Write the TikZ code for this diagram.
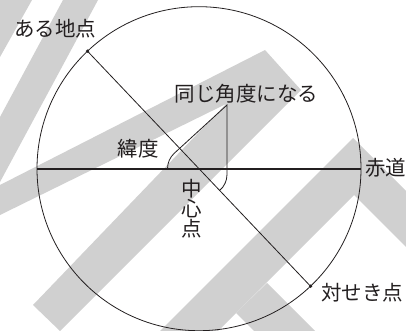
\documentclass[tikz,border=0pt]{standalone}
\usepackage{fontspec}
\newfontfamily\jp{Noto Sans CJK JP}
\begin{document}
\begin{tikzpicture}[x=1pt,y=-1pt]
\definecolor{wm}{RGB}{208,208,208}
\definecolor{ink}{RGB}{35,31,32}
\tikzset{
  wmark/.style={fill=wm,draw=none},
  lbl/.style={font=\jp\fontsize{20.5}{20}\selectfont, text=ink, inner sep=0pt},
  thinline/.style={draw=ink, line width=0.8pt},
  eqline/.style={draw=ink, line width=1.6pt},
  dotm/.style={circle, fill=ink, inner sep=0pt, minimum size=3.6pt}
}
\useasboundingbox (0,0) rectangle (406,331);
\fill[white] (0,0) rectangle (406,331);
% watermark stripes
\fill[wmark] (0,0) -- (32,0) -- (0,57) -- cycle;
\fill[wmark] (63,0) -- (98,0) -- (0,182) -- (0,117) -- cycle;
\fill[wmark] (0,185) -- (265,50) -- (301,90) -- (60,331) -- (33,305) -- (226,104) -- (0,215) -- cycle;
\fill[wmark] (160,331) -- (353,138) -- (406,191) -- (406,247) -- (354,195) -- (218,331) -- cycle;
\fill[wmark] (236,313) -- (267,283) -- (315,331) -- (254,331) -- cycle;
% geometry
\coordinate (c) at (199,168.7);
\coordinate (eqL) at (37,168.7);
\coordinate (eqR) at (361,168.7);
\coordinate (apex) at (227,105);
\coordinate (la) at (167.5,168.7);
\coordinate (ra) at (227,174.5);
\draw[thinline] (c) circle[radius=162];
\draw[eqline] (eqL) -- (eqR);
\node[dotm] (pa) at (87.5,51.2) {};
\node[dotm] (pb) at (310.5,286.2) {};
\draw[thinline] (pa.center) -- (pb.center);
\draw[thinline] (la) arc[start angle=180, end angle=227, radius=21] -- (apex) -- (ra) arc[start angle=0, end angle=50, radius=21];
% labels
\node[lbl] (t1) at (55,28.5) {ある地点};
\node[lbl] (t2) at (246.5,93.5) {同じ角度になる};
\node[lbl] (t3) at (138.3,149) {緯度};
\node[lbl, anchor=west] (t4) at (365,167.5) {赤道};
\node[lbl, align=center] (t5) at (192,208.3) {中\\心\\点};
\node[lbl] (t6) at (362,292.5) {対せき点};
\end{tikzpicture}
\end{document}
